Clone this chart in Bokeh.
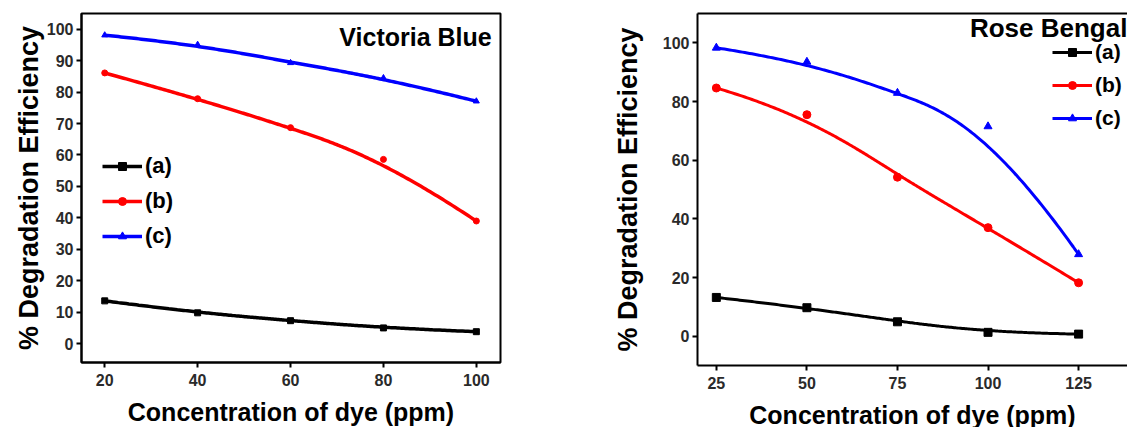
import numpy as np
from bokeh.plotting import figure
from bokeh.layouts import row
from bokeh.models import Legend, LegendItem, Label, LinearAxis, Range1d, FixedTicker
from bokeh.embed import file_html
from bokeh.resources import INLINE

# ---- data: Victoria Blue ----
vb_conc = [20, 40, 60, 80, 100]
vb_a = [13.6, 9.8, 7.3, 5.0, 3.8]
vb_b = [86.1, 77.9, 68.7, 58.6, 39.0]
vb_c = [98.1, 95.1, 89.3, 84.5, 77.1]
vb_xticks = [20, 40, 60, 80, 100]
vb_yticks = [0, 10, 20, 30, 40, 50, 60, 70, 80, 90, 100]

# ---- data: Rose Bengal ----
rb_conc = [25, 50, 75, 100, 125]
rb_a = [13.2, 9.7, 4.9, 1.3, 0.7]
rb_b = [84.6, 75.5, 54.2, 37.0, 18.2]
rb_c = [98.3, 93.5, 82.9, 71.5, 27.9]
rb_xticks = [25, 50, 75, 100, 125]
rb_yticks = [0, 20, 40, 60, 80, 100]

series_labels = ["(a)", "(b)", "(c)"]
colors = ["#000000", "#ff0000", "#0000ff"]
markers = ["square", "circle", "triangle"]

FONT = "Liberation Sans"


def bspline(xc, yc, deg=3, n=200):
    """Clamped B-spline using the data points as control points."""
    P = np.column_stack([xc, yc]).astype(float)
    k = len(P)
    inner = np.linspace(0.0, 1.0, k - deg + 1)
    knots = np.concatenate([np.zeros(deg), inner, np.ones(deg)])
    t = np.linspace(0.0, 1.0, n)
    nspan = len(knots) - 1
    N = np.zeros((n, nspan))
    for i in range(nspan):
        N[:, i] = ((t >= knots[i]) & (t < knots[i + 1])).astype(float)
    last = max(i for i in range(nspan) if knots[i] < knots[i + 1])
    N[t >= 1.0, :] = 0.0
    N[t >= 1.0, last] = 1.0
    for p in range(1, deg + 1):
        Nn = np.zeros((n, nspan - p))
        for i in range(nspan - p):
            d1 = knots[i + p] - knots[i]
            d2 = knots[i + p + 1] - knots[i + 1]
            a = (t - knots[i]) / d1 * N[:, i] if d1 > 0 else 0.0
            b = (knots[i + p + 1] - t) / d2 * N[:, i + 1] if d2 > 0 else 0.0
            Nn[:, i] = a + b
        N = Nn
    C = N @ P
    return C[:, 0], C[:, 1]


def style_axes(p, xticks, yticks, tick_font, ylabel_standoff, xlabel_standoff):
    for ax in (p.xaxis[0], p.yaxis[0]):
        ax.axis_line_width = 2
        ax.axis_line_color = "black"
        ax.major_tick_line_width = 2
        ax.major_tick_line_color = "black"
        ax.major_tick_out = 5
        ax.major_tick_in = 0
        ax.minor_tick_line_color = None
        ax.major_label_text_font = FONT
        ax.major_label_text_font_style = "bold"
        ax.major_label_text_font_size = tick_font
        ax.major_label_text_color = "#2a2a2a"
        ax.axis_label_text_font = FONT
        ax.axis_label_text_font_style = "bold"
        ax.axis_label_text_color = "black"
    p.xaxis[0].axis_label_text_font_size = "25px"
    p.yaxis[0].axis_label_text_font_size = "27px"
    p.xaxis[0].ticker = FixedTicker(ticks=xticks)
    p.yaxis[0].ticker = FixedTicker(ticks=yticks)
    p.xaxis[0].major_label_standoff = 6
    p.yaxis[0].major_label_standoff = 3
    p.yaxis[0].axis_label_standoff = ylabel_standoff
    p.xaxis[0].axis_label_standoff = xlabel_standoff
    p.grid.visible = False


def add_series(p, x, ys, line_w, msize):
    items = []
    for y, lab, col, mk in zip(ys, series_labels, colors, markers):
        xs, yf = bspline(x, y)
        r1 = p.line(xs, yf, line_color=col, line_width=line_w)
        r2 = p.scatter(x, y, marker=mk, size=msize, fill_color=col, line_color=col)
        items.append(LegendItem(label=lab, renderers=[r1, r2]))
    return items


# ---------------- left panel ----------------
p1 = figure(frame_width=419, frame_height=349, min_border_left=81, min_border_right=60,
            min_border_top=13, min_border_bottom=65,
            x_range=Range1d(15, 105.2), y_range=Range1d(-6, 105),
            output_backend="svg", toolbar_location=None,
            x_axis_label="Concentration of dye (ppm)", y_axis_label="% Degradation Efficiency")
p1.outline_line_color = "black"
p1.outline_line_width = 2
style_axes(p1, vb_xticks, vb_yticks, "16px", 0, 9)
items1 = add_series(p1, vb_conc, [vb_a, vb_b, vb_c], 3.5, 6)
leg1 = Legend(items=items1, location=(21, 113), glyph_width=40, glyph_height=20,
              label_height=20, label_standoff=3, spacing=9, padding=0, margin=0,
              label_text_font=FONT, label_text_font_style="bold", label_text_font_size="22px",
              label_text_color="black",
              background_fill_alpha=0, border_line_alpha=0)
p1.add_layout(leg1)
p1.add_layout(Label(x=103.3, y=97.5, text="Victoria Blue", text_align="right", text_baseline="middle",
                    text_color="black",
                    text_font=FONT, text_font_style="bold", text_font_size="25px"))

# ---------------- right panel ----------------
p2 = figure(frame_width=430, frame_height=352, min_border_left=137, min_border_right=0,
            min_border_top=9, min_border_bottom=66,
            x_range=Range1d(19.8, 138.5), y_range=Range1d(-10, 110),
            output_backend="svg", toolbar_location=None,
            x_axis_label="Concentration of dye (ppm)", y_axis_label="% Degradation Efficiency")
p2.outline_line_color = None
style_axes(p2, rb_xticks, rb_yticks, "16px", 17, 9)
top_axis = LinearAxis(ticker=FixedTicker(ticks=[]), major_tick_line_color=None,
                      minor_tick_line_color=None, axis_line_width=2, axis_line_color="black")
p2.add_layout(top_axis, "above")
items2 = add_series(p2, rb_conc, [rb_a, rb_b, rb_c], 3, 8)
leg2 = Legend(items=items2, location=(355, 235), glyph_width=40, glyph_height=20,
              label_height=20, label_standoff=3, spacing=9, padding=0, margin=0,
              label_text_font=FONT, label_text_font_style="bold", label_text_font_size="21px",
              label_text_color="black",
              background_fill_alpha=0, border_line_alpha=0)
p2.add_layout(leg2)
p2.add_layout(Label(x=95.0, y=104.9, text="Rose Bengal", text_align="left", text_baseline="middle",
                    text_color="black",
                    text_font=FONT, text_font_style="bold", text_font_size="26px"))

layout = row(p1, p2)
open("out.html", "w").write(file_html(layout, INLINE))
